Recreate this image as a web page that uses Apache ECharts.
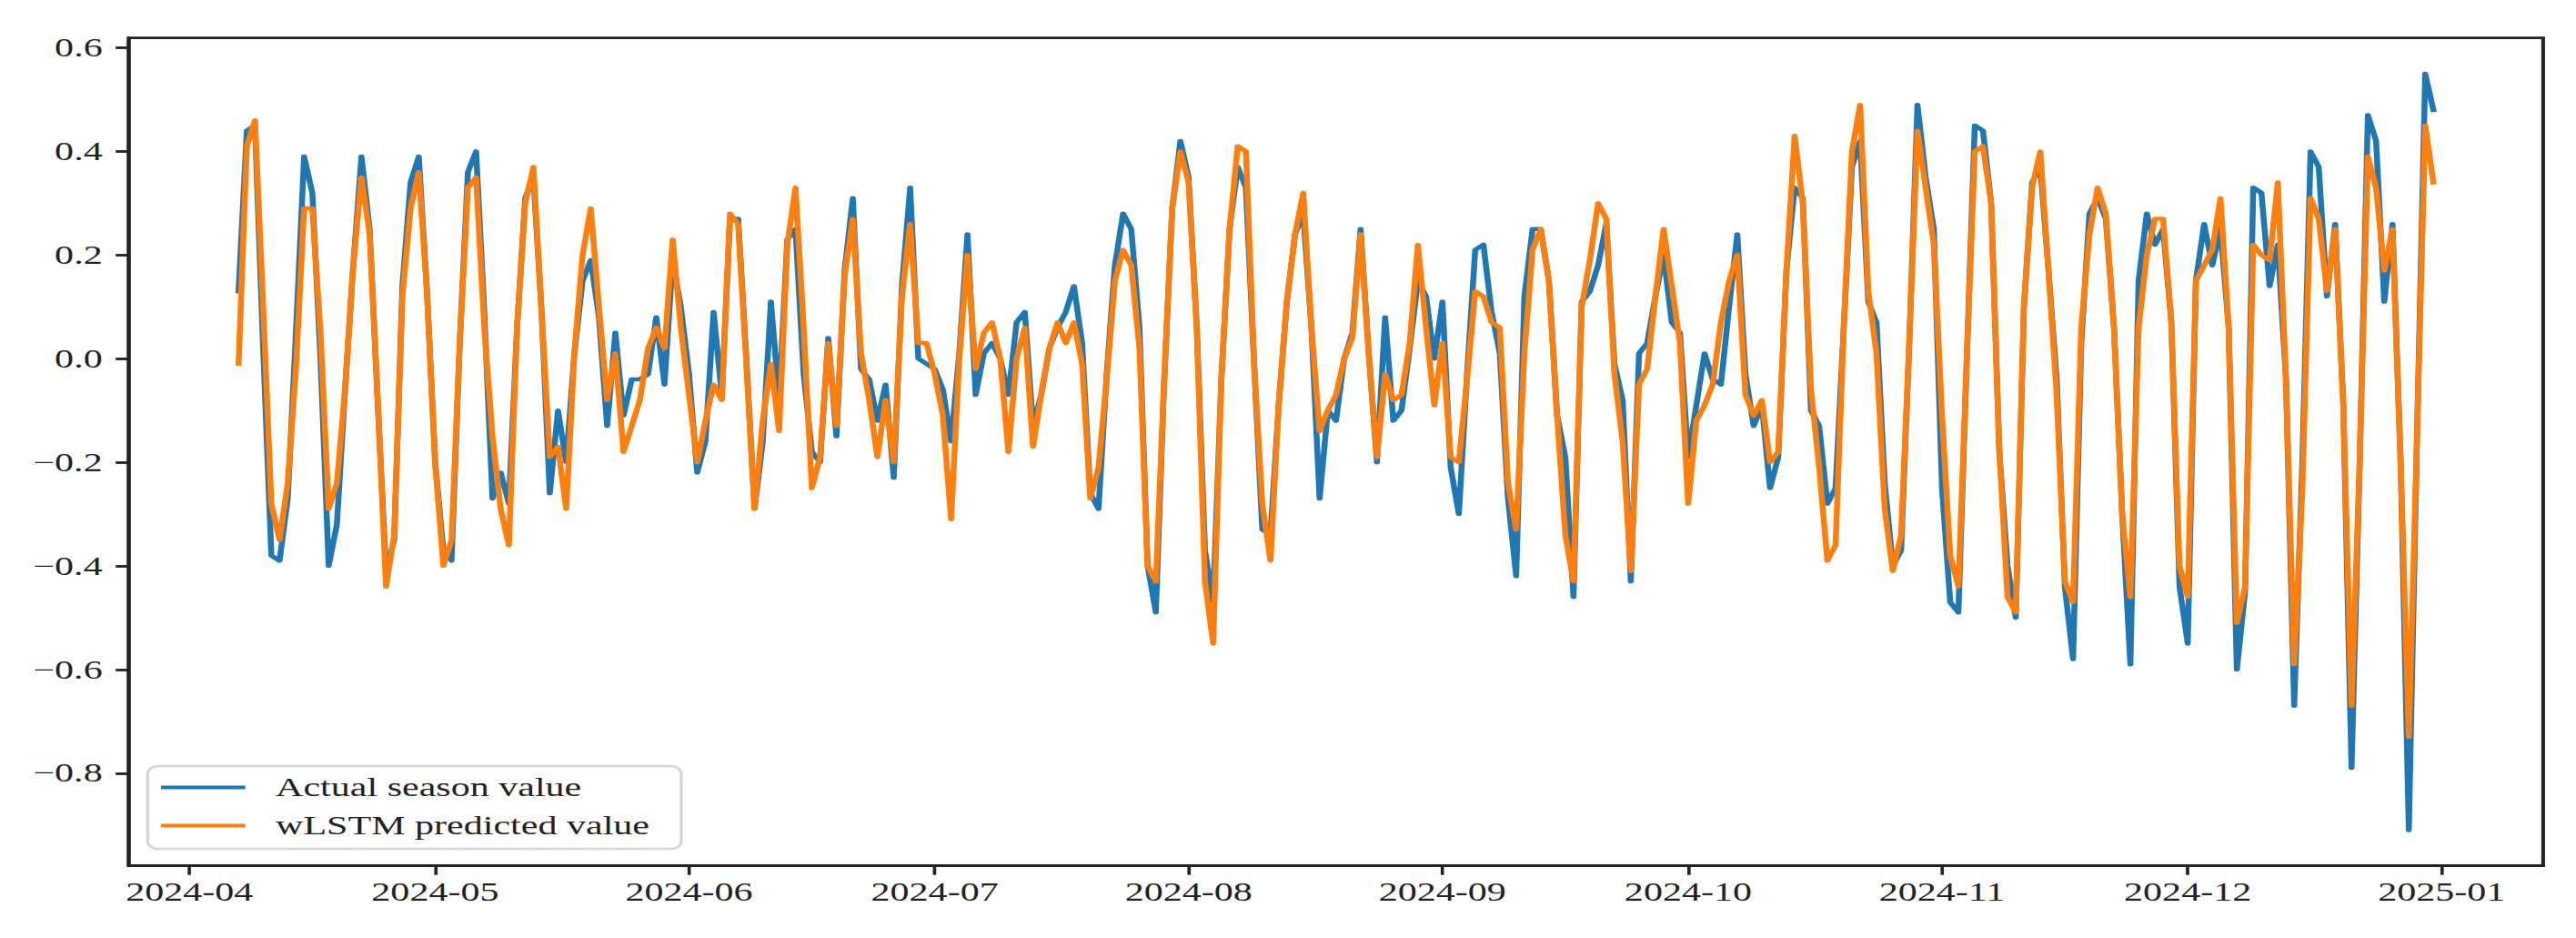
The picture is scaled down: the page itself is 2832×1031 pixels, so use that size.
<!DOCTYPE html>
<html>
<head>
<meta charset="utf-8">
<script src="https://cdn.jsdelivr.net/npm/echarts@6/dist/echarts.min.js"></script>
<style>
  html, body { margin: 0; padding: 0; background: #fff; overflow: hidden; }
  /* the reference figure is stretched sideways, so draw narrow and scale it out */
  #chart { width: 1953px; height: 1031px; transform: scaleX(1.45007); transform-origin: 0 0; }
</style>
</head>
<body>
<div id="chart"></div>
<script>
// daily values, 2024-04-07 .. 2024-12-31
const firstDay = '2024-04-07';

const actualValues = [
  0.13, 0.44, 0.45, 0.02, -0.38, -0.39, -0.27, 0.05, 0.39, 0.32,
  0.00, -0.40, -0.32, -0.06, 0.18, 0.39, 0.25, -0.09, -0.41, -0.35,
  0.14, 0.34, 0.39, 0.13, -0.20, -0.37, -0.39, 0.03, 0.36, 0.40,
  0.09, -0.27, -0.22, -0.28, 0.06, 0.31, 0.35, 0.09, -0.26, -0.10,
  -0.20, 0.01, 0.15, 0.19, 0.08, -0.13, 0.05, -0.11, -0.04, -0.04,
  -0.03, 0.08, -0.05, 0.19, 0.10, -0.03, -0.22, -0.16, 0.09, -0.07,
  0.27, 0.27, 0.00, -0.29, -0.16, 0.11, -0.08, 0.23, 0.25, -0.03,
  -0.18, -0.20, 0.04, -0.15, 0.17, 0.31, -0.02, -0.04, -0.12, -0.05,
  -0.23, 0.14, 0.33, 0.00, -0.01, -0.02, -0.06, -0.16, 0.01, 0.24,
  -0.07, 0.01, 0.03, 0.00, -0.07, 0.07, 0.09, -0.13, -0.07, 0.02,
  0.06, 0.09, 0.14, 0.03, -0.26, -0.29, -0.03, 0.18, 0.28, 0.25,
  0.06, -0.40, -0.49, -0.05, 0.29, 0.42, 0.35, 0.06, -0.37, -0.47,
  -0.04, 0.25, 0.37, 0.33, -0.01, -0.33, -0.34, -0.09, 0.11, 0.24,
  0.28, 0.06, -0.27, -0.10, -0.12, 0.00, 0.05, 0.25, 0.01, -0.20,
  0.08, -0.12, -0.10, 0.02, 0.15, 0.12, 0.00, 0.11, -0.21, -0.30,
  -0.03, 0.21, 0.22, 0.09, 0.01, -0.27, -0.42, 0.12, 0.25, 0.25,
  0.15, -0.11, -0.19, -0.46, 0.11, 0.13, 0.18, 0.26, -0.01, -0.08,
  -0.43, 0.01, 0.03, 0.12, 0.20, 0.07, 0.05, -0.19, -0.09, 0.01,
  -0.04, -0.05, 0.10, 0.24, -0.03, -0.13, -0.09, -0.25, -0.19, 0.17,
  0.33, 0.31, -0.10, -0.13, -0.28, -0.25, 0.06, 0.37, 0.42, 0.11,
  0.07, -0.24, -0.40, -0.37, 0.03, 0.49, 0.35, 0.25, -0.25, -0.47,
  -0.49, -0.01, 0.45, 0.44, 0.30, -0.18, -0.40, -0.50, 0.10, 0.34,
  0.37, 0.17, -0.04, -0.44, -0.58, 0.03, 0.28, 0.31, 0.27, 0.06,
  -0.30, -0.59, 0.15, 0.28, 0.22, 0.25, 0.07, -0.44, -0.55, 0.15,
  0.26, 0.18, 0.25, 0.06, -0.60, -0.45, 0.33, 0.32, 0.14, 0.22,
  -0.04, -0.67, -0.20, 0.40, 0.37, 0.12, 0.26, -0.09, -0.79, -0.20,
  0.47, 0.42, 0.11, 0.26, -0.20, -0.91, -0.15, 0.55, 0.48
];

const predictedValues = [
  -0.01, 0.41, 0.46, 0.10, -0.28, -0.35, -0.24, -0.02, 0.29, 0.29,
  0.05, -0.29, -0.24, -0.06, 0.18, 0.35, 0.24, -0.08, -0.44, -0.34,
  0.12, 0.29, 0.36, 0.13, -0.20, -0.40, -0.35, 0.03, 0.33, 0.35,
  0.06, -0.15, -0.29, -0.36, 0.06, 0.30, 0.37, 0.09, -0.19, -0.17,
  -0.29, 0.01, 0.20, 0.29, 0.10, -0.08, 0.01, -0.18, -0.13, -0.08,
  0.02, 0.06, 0.02, 0.23, 0.06, -0.07, -0.20, -0.12, -0.05, -0.08,
  0.28, 0.26, -0.01, -0.29, -0.12, -0.01, -0.14, 0.22, 0.33, 0.06,
  -0.25, -0.19, 0.03, -0.13, 0.16, 0.27, 0.01, -0.08, -0.19, -0.08,
  -0.20, 0.12, 0.26, 0.03, 0.03, -0.03, -0.11, -0.31, 0.00, 0.20,
  -0.02, 0.05, 0.07, 0.00, -0.18, 0.00, 0.06, -0.17, -0.07, 0.02,
  0.07, 0.03, 0.07, -0.01, -0.27, -0.21, -0.04, 0.15, 0.21, 0.18,
  0.02, -0.40, -0.43, -0.05, 0.29, 0.40, 0.34, 0.06, -0.43, -0.55,
  -0.04, 0.25, 0.41, 0.40, -0.01, -0.28, -0.39, -0.09, 0.11, 0.24,
  0.32, 0.06, -0.14, -0.10, -0.07, 0.00, 0.04, 0.24, 0.01, -0.19,
  -0.03, -0.08, -0.07, 0.03, 0.22, 0.06, -0.09, 0.03, -0.19, -0.20,
  -0.04, 0.13, 0.12, 0.07, 0.06, -0.24, -0.33, 0.01, 0.21, 0.25,
  0.15, -0.11, -0.34, -0.43, 0.10, 0.19, 0.30, 0.27, -0.03, -0.16,
  -0.41, -0.05, -0.02, 0.12, 0.25, 0.14, 0.03, -0.28, -0.12, -0.09,
  -0.05, 0.07, 0.15, 0.20, -0.07, -0.11, -0.08, -0.20, -0.18, 0.17,
  0.43, 0.30, -0.06, -0.21, -0.39, -0.36, 0.06, 0.40, 0.49, 0.13,
  0.01, -0.29, -0.41, -0.34, 0.03, 0.44, 0.33, 0.22, -0.11, -0.38,
  -0.44, -0.01, 0.40, 0.41, 0.30, -0.18, -0.46, -0.49, 0.10, 0.33,
  0.40, 0.17, -0.07, -0.43, -0.47, 0.06, 0.24, 0.33, 0.28, 0.06,
  -0.30, -0.46, 0.06, 0.20, 0.27, 0.27, 0.07, -0.40, -0.46, 0.15,
  0.18, 0.21, 0.31, 0.06, -0.51, -0.44, 0.22, 0.20, 0.19, 0.34,
  -0.04, -0.59, -0.25, 0.31, 0.27, 0.13, 0.25, -0.09, -0.67, -0.20,
  0.39, 0.33, 0.17, 0.25, -0.20, -0.73, -0.15, 0.45, 0.34
];

const xTickLabels = ['2024-04', '2024-05', '2024-06', '2024-07', '2024-08',
                     '2024-09', '2024-10', '2024-11', '2024-12', '2025-01'];
const yTickValues = [-0.8, -0.6, -0.4, -0.2, 0.0, 0.2, 0.4, 0.6];

const FONT = 'Liberation Serif';
const INK = '#222222';

const parts = firstDay.split('-').map(Number);
const dates = actualValues.map((_, i) => new Date(parts[0], parts[1] - 1, parts[2] + i).getTime());
const monthStamps = xTickLabels.map(s => {
  const p = s.split('-').map(Number);
  return new Date(p[0], p[1] - 1, 1).getTime();
});

// matplotlib style 5% margins around the data
const span = dates[dates.length - 1] - dates[0];
const xMin = dates[0] - span * 0.05;
const xMax = dates[dates.length - 1] + span * 0.05;

const chart = echarts.init(document.getElementById('chart'), null, { renderer: 'svg' });

const lineStyleFor = (color) => ({ color: color, width: 4.5, cap: 'square', join: 'round' });
const spine = { show: true, onZero: false, lineStyle: { color: INK, width: 2.8 } };

chart.setOption({
  animation: false,
  backgroundColor: '#ffffff',
  grid: {
    left: 97.7,
    top: 41.7,
    width: 1830.4,
    height: 910,
    show: true,
    borderColor: INK,
    borderWidth: 2.8,
    backgroundColor: 'transparent'
  },
  legend: {
    left: 112,
    top: 842,
    orient: 'vertical',
    icon: 'rect',
    itemWidth: 64,
    itemHeight: 4,
    itemGap: 13,
    padding: [9, 24, 11, 10],
    backgroundColor: '#ffffff',
    borderColor: '#d6d6d6',
    borderWidth: 2.4,
    borderRadius: 8,
    textStyle: {
      fontFamily: FONT,
      fontSize: 29,
      lineHeight: 29,
      color: INK,
      padding: [0, 0, 0, 18]
    },
    data: ['Actual season value', 'wLSTM predicted value']
  },
  xAxis: {
    type: 'value',
    position: 'bottom',
    min: xMin,
    max: xMax,
    axisLine: spine,
    splitLine: { show: false },
    axisTick: {
      show: true,
      customValues: monthStamps,
      length: 10,
      lineStyle: { color: INK, width: 2.5 }
    },
    axisLabel: {
      customValues: monthStamps,
      margin: 14,
      fontFamily: FONT,
      fontSize: 29,
      color: INK,
      hideOverlap: false,
      formatter: function (v) {
        const i = monthStamps.indexOf(v);
        return i >= 0 ? xTickLabels[i] : '';
      }
    }
  },
  yAxis: {
    type: 'value',
    position: 'left',
    min: -0.979,
    max: 0.619,
    axisLine: spine,
    splitLine: { show: false },
    axisTick: {
      show: true,
      customValues: yTickValues,
      length: 10,
      lineStyle: { color: INK, width: 2.8 }
    },
    axisLabel: {
      customValues: yTickValues,
      margin: 20,
      fontFamily: FONT,
      fontSize: 29,
      color: INK,
      formatter: function (v) {
        return v.toFixed(1).replace('-', '\u2212');
      }
    }
  },
  series: [
    {
      name: 'Actual season value',
      type: 'line',
      data: actualValues.map((v, i) => [dates[i], v]),
      showSymbol: false,
      color: '#1f77b4',
      lineStyle: lineStyleFor('#1f77b4'),
      z: 2
    },
    {
      name: 'wLSTM predicted value',
      type: 'line',
      data: predictedValues.map((v, i) => [dates[i], v]),
      showSymbol: false,
      color: '#ff7f0e',
      lineStyle: lineStyleFor('#ff7f0e'),
      z: 3
    }
  ]
});

window.addEventListener('resize', () => chart.resize());
</script>
</body>
</html>
